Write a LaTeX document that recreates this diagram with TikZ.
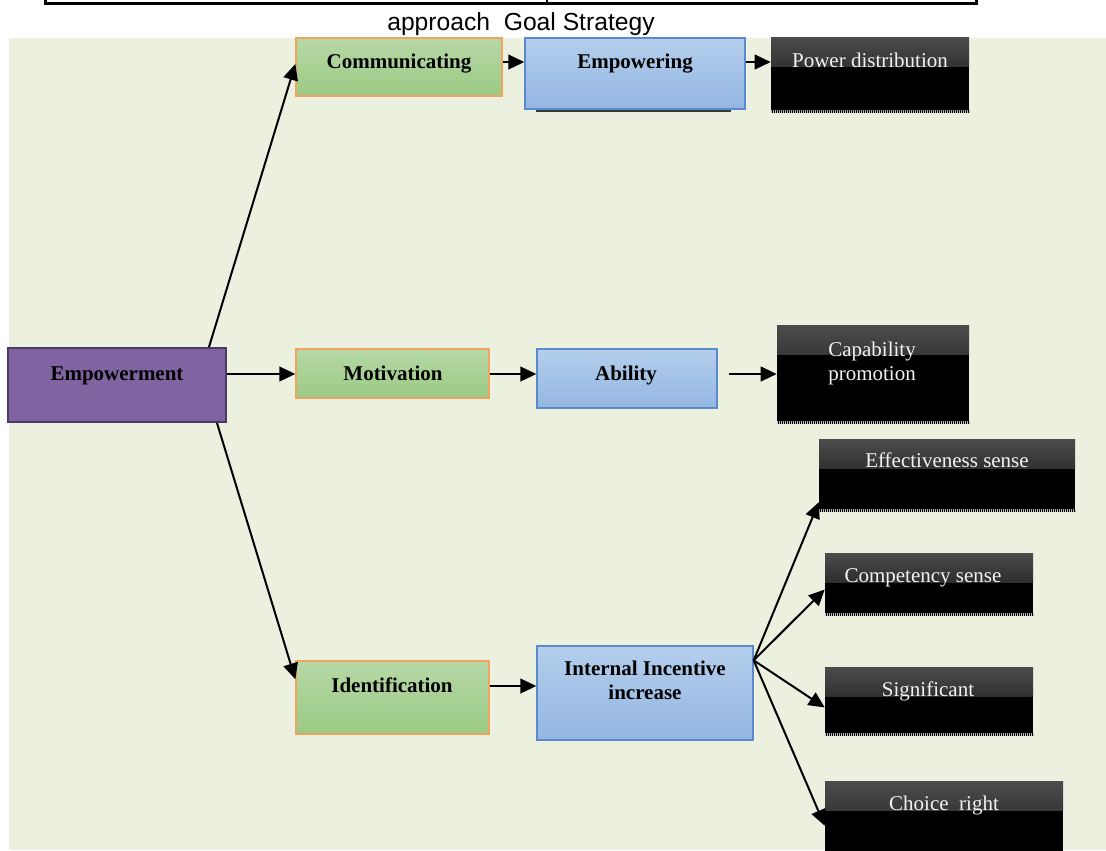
\documentclass[tikz,border=0pt]{standalone}
\usepackage{fontspec}
\setmainfont{Liberation Serif}
\newfontfamily\titlefont{Liberation Sans}
\usetikzlibrary{arrows.meta,fit,calc}
\definecolor{bgc}{HTML}{EBF1DE}
\definecolor{purplefill}{HTML}{8064A2}
\definecolor{purpleline}{HTML}{4B3A63}
\definecolor{greentop}{HTML}{B6D8A6}
\definecolor{greenbot}{HTML}{9BCA84}
\definecolor{orangeline}{HTML}{F0A35E}
\definecolor{bluetop}{HTML}{B4CEEC}
\definecolor{bluebot}{HTML}{93B6E2}
\definecolor{blueline}{HTML}{5A8ACB}
\definecolor{darktop}{HTML}{4C4C4C}
\definecolor{darkbot}{HTML}{0A0A0A}
\definecolor{paletext}{HTML}{F2F2F2}
\tikzset{
  purplebox/.style={fill=purplefill, draw=purpleline, line width=1.5pt, inner sep=0pt},
  greenbox/.style={top color=greentop, bottom color=greenbot, draw=orangeline, line width=1pt, inner sep=0pt},
  bluebox/.style={top color=bluetop, bottom color=bluebot, draw=blueline, line width=1pt, inner sep=0pt},
  blackbox/.style={fill=black, inner sep=0pt,
    path picture={\shade[top color=darktop, bottom color=darkbot, shading angle=0]
      (path picture bounding box.north west) rectangle ([yshift=-22pt]path picture bounding box.north east);}},
  checker/.style={draw=gray!55, line width=2.25pt, dash pattern=on 0.75pt off 0.75pt},
  blab/.style={font=\fontsize{15.75}{18}\selectfont\bfseries, inner sep=0pt, anchor=base, align=center},
  wlab/.style={font=\fontsize{15.75}{18}\selectfont, text=paletext, inner sep=0pt, anchor=base, align=center},
  arr/.style={line width=1.5pt, -{Triangle[length=12pt,width=11pt]}}
}
\begin{document}
\begin{tikzpicture}[x=0.75pt,y=-0.75pt]
\useasboundingbox (0,0) rectangle (1106,850);
\clip (0,0) rectangle (1106,850);
% top frame
\draw[line width=2.25pt] (45,-5) -- (45,3) -- (976,3) -- (976,-5);
\draw[line width=0.9pt] (547,-5) -- (547,3);
\node[font=\titlefont\fontsize{18.5}{22}\selectfont, inner sep=0pt, anchor=base] (title) at (521,30) {approach\ \ Goal Strategy};
% background
\fill[bgc] (9,38) rectangle (1106,850);
% boxes
\node[purplebox, fit={(8,348)(226,422)}] (emp) {};
\node[greenbox, fit={(296,38)(502,96)}] (comm) {};
\node[bluebox, fit={(525,38)(745,109)}] (empg) {};
\node[blackbox, fit={(771,37)(969,113)}] (pd) {};
\node[greenbox, fit={(296,349)(489,398)}] (mot) {};
\node[bluebox, fit={(537,349)(717,408)}] (abil) {};
\node[blackbox, fit={(777,325)(969,424)}] (cap) {};
\node[greenbox, fit={(296,661)(489,734)}] (ident) {};
\node[bluebox, fit={(537,646)(753,740)}] (inc) {};
\node[blackbox, fit={(819,439)(1075,512)}] (eff) {};
\node[blackbox, fit={(825,553)(1033,616)}] (comp) {};
\node[blackbox, fit={(825,667)(1033,736)}] (sig) {};
\node[blackbox, fit={(825,781)(1063,880)}] (choice) {};
\draw[gray!45!black, line width=1.2pt] ($(empg.south west)+(12,1.5)$) -- ($(empg.south east)+(-15,1.5)$);
\foreach \b in {pd,cap,eff,comp,sig}{
  \draw[checker] ($(\b.south west)+(0,-1.5)$) -- ($(\b.south east)+(0,-1.5)$);
}
% labels
\node[blab] (empT) at (117,380) {Empowerment};
\node[blab] (commT) at (399,68) {Communicating};
\node[blab] (empgT) at (635,68) {Empowering};
\node[wlab] (pdT) at (870,67) {Power distribution};
\node[blab] (motT) at (393,380) {Motivation};
\node[blab] (abilT) at (626,380) {Ability};
\node[wlab] (capT) at (872,380) {Capability\\promotion};
\node[blab] (identT) at (392,692) {Identification};
\node[blab] (incT) at (645,699) {Internal Incentive\\increase};
\node[wlab] (effT) at (947,467) {Effectiveness sense};
\node[wlab] (compT) at (923,582) {Competency sense};
\node[wlab] (sigT) at (928,696) {Significant};
\node[wlab] (choiceT) at (944,810) {Choice\ \ right};
% connectors
\coordinate (r1) at (0,62);
\coordinate (r2) at (0,374);
\coordinate (r3) at (0,686);
\draw[arr] ($(emp.north east)+(-18,0)$) -- ($(comm.west)+(0,-3)$);
\draw[arr] (emp.east |- r2) -- (mot.west |- r2);
\draw[arr] ($(emp.south east)+(-10,0)$) -- ($(ident.north west)+(0,19)$);
\draw[arr] (comm.east |- r1) -- (empg.west |- r1);
\draw[arr] (empg.east |- r1) -- (pd.west |- r1);
\draw[arr] (mot.east |- r2) -- (abil.west |- r2);
\coordinate (abilout) at ($(abil.east |- r2)+(11,0)$);
\draw[arr] (abilout) -- (cap.west |- r2);
\draw[arr] (ident.east |- r3) -- (inc.west |- r3);
\coordinate (fan) at ($(inc.north east)+(0,15)$);
\draw[arr] (fan) -- ($(eff.south west)+(0,-10)$);
\draw[arr] (fan) -- ($(comp.west)+(0,5)$);
\draw[arr] (fan) -- ($(sig.west)+(0,6)$);
\draw[arr] (fan) -- ($(choice.north west)+(0,45)$);
\end{tikzpicture}
\end{document}
